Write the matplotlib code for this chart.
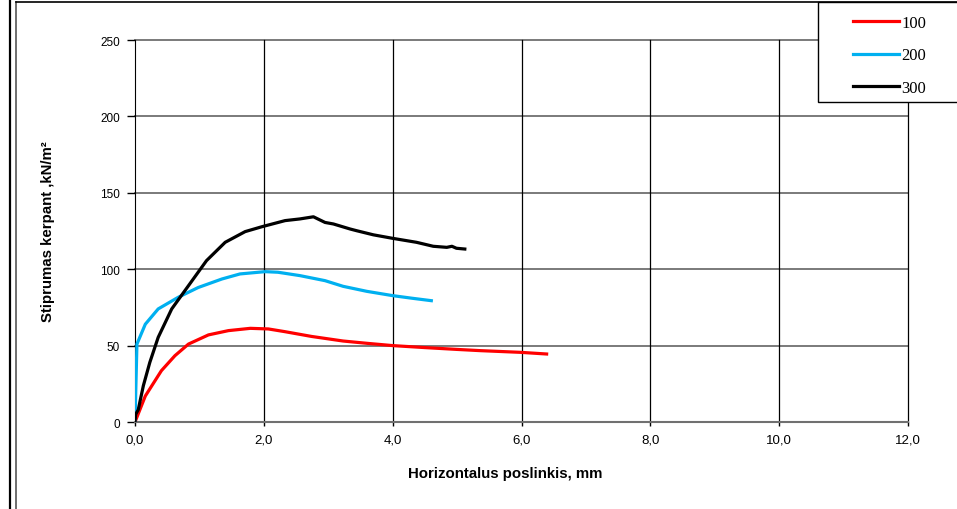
import numpy as np
import matplotlib.pyplot as plt
from matplotlib.lines import Line2D
from matplotlib.patches import Rectangle

# ================== DATA ==================
x_100 = [0, 0.16, 0.41, 0.62, 0.83, 1.14, 1.45, 1.79, 2.07, 2.33, 2.74, 3.23, 3.6, 4.0, 4.5, 5.0, 5.36, 5.98, 6.39]
y_100 = [0, 17, 33.6, 43.4, 51, 57, 59.8, 61.3, 60.9, 59.1, 56, 53, 51.5, 50, 48.7, 47.5, 46.7, 45.6, 44.5]

x_200 = [0, 0.03, 0.16, 0.36, 0.67, 0.98, 1.35, 1.63, 2.02, 2.22, 2.56, 2.95, 3.23, 3.6, 4.0, 4.3, 4.6]
y_200 = [0, 51, 64, 74, 81.6, 88, 93.6, 96.9, 98.4, 98, 95.8, 92.5, 88.8, 85.5, 82.7, 81, 79.4]

x_300 = [0, 0.01, 0.05, 0.13, 0.23, 0.36, 0.57, 0.83, 1.11, 1.40, 1.71, 1.97, 2.33, 2.56, 2.77,
         2.95, 3.08, 3.34, 3.44, 3.7, 4.0, 4.37, 4.63, 4.84, 4.92, 4.99, 5.12]
y_300 = [0, 5, 8, 23.8, 39, 55.4, 74, 89.2, 105.6, 117.6, 124.6, 127.8, 131.8, 132.9, 134.3,
         130.6, 129.6, 126.3, 125.2, 122.5, 120.2, 117.6, 115, 114.3, 115, 113.7, 113.2]

series_labels = ['100', '200', '300']
series_colors = ['#ff0000', '#00b0f0', '#000000']

x_ticks = [0, 2, 4, 6, 8, 10, 12]
x_ticklabels = ['0,0', '2,0', '4,0', '6,0', '8,0', '10,0', '12,0']
y_ticks = [0, 50, 100, 150, 200, 250]

# ================== FIGURE ==================
W, H = 957, 510
fig = plt.figure(figsize=(W / 100, H / 100), dpi=100)
ax = fig.add_axes([135 / W, 1 - 423 / H, (908 - 135) / W, (423 - 41) / H])

for xs, ys, c, lab in zip([x_100, x_200, x_300], [y_100, y_200, y_300], series_colors, series_labels):
    ax.plot(xs, ys, color=c, lw=2.3, label=lab, solid_joinstyle='round', zorder=3)

ax.set_xlim(0, 12)
ax.set_ylim(0, 250)
ax.set_xticks(x_ticks)
ax.set_xticklabels(x_ticklabels, fontsize=9.5, family='Liberation Sans')
ax.set_yticks(y_ticks)
ax.set_yticklabels([str(v) for v in y_ticks], fontsize=8.5, family='Liberation Sans')
ax.tick_params(axis='y', direction='out', length=6, width=1, pad=5)
ax.tick_params(axis='x', direction='out', length=3, width=1, pad=5)

# grid: horizontal grey, vertical black
for v in y_ticks[1:]:
    ax.axhline(v, color='#707070', lw=1.3, zorder=1, clip_on=False)
for v in x_ticks[1:]:
    ax.axvline(v, color='black', lw=0.9, zorder=1, clip_on=False)

ax.spines['top'].set_visible(False)
ax.spines['right'].set_visible(False)
ax.spines['left'].set_color('black')
ax.spines['bottom'].set_color('#707070')
ax.spines['bottom'].set_linewidth(1.5)

ax.set_xlabel('Horizontalus poslinkis, mm', fontsize=10.8, fontweight='bold',
              family='Liberation Sans', labelpad=15)
ax.xaxis.label.set_x((505 - 135) / 773)
ax.set_ylabel('Stiprumas kerpant ,kN/m²', fontsize=10.8, fontweight='bold',
              family='Liberation Sans', labelpad=32)

# outer frames
fig.add_artist(Line2D([9.5 / W, 9.5 / W], [0, 1], color='black', lw=1.6))
fig.add_artist(Line2D([16 / W, 16 / W], [0, 1 - 3 / H], color='#555555', lw=1.2))
fig.add_artist(Line2D([16 / W, 1], [1 - 3 / H, 1 - 3 / H], color='black', lw=1.2))

# legend box
fig.add_artist(Rectangle((818 / W, 1 - 103 / H), 0.2, 100 / H, transform=fig.transFigure,
                         facecolor='white', edgecolor='black', lw=1.0, zorder=5))
leg = fig.legend(loc='upper left', bbox_to_anchor=(841 / W, 1 - 4 / H), frameon=False,
                 prop={'family': 'Liberation Serif', 'size': 12}, handlelength=2.8,
                 handletextpad=0.1, labelspacing=1.0, borderpad=0.2)
leg.set_zorder(6)

fig.savefig('out.png', dpi=100)
